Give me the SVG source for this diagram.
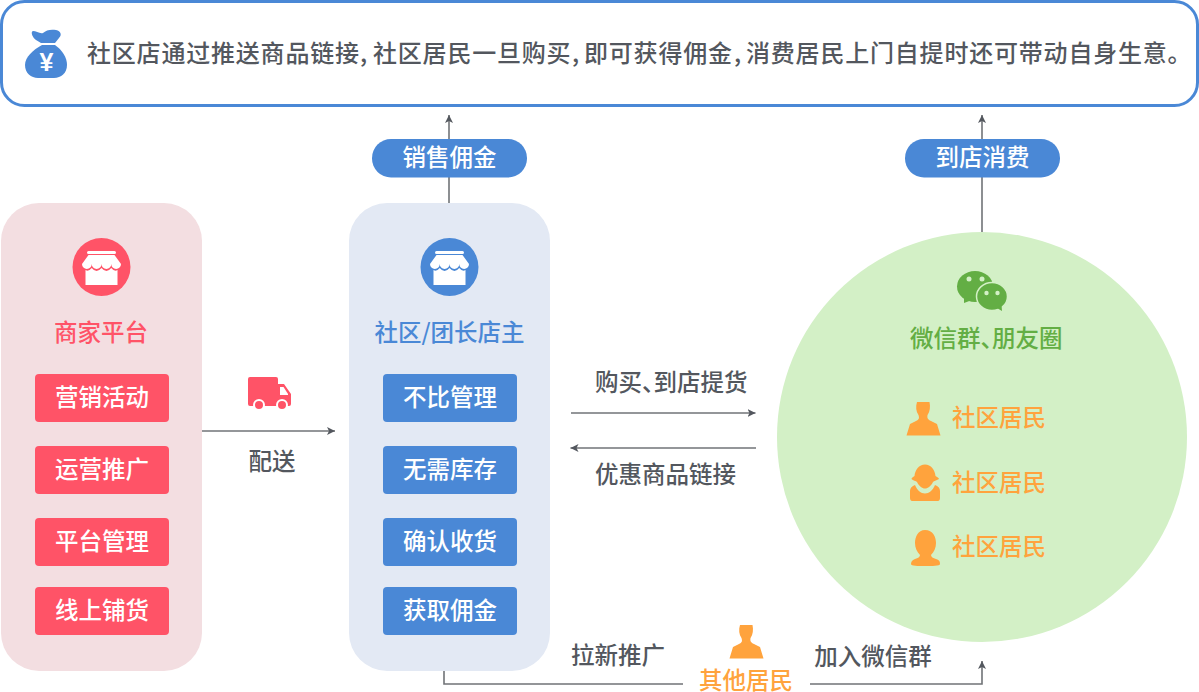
<svg xmlns="http://www.w3.org/2000/svg" width="1199" height="692" viewBox="0 0 1199 692">
<style>
text{font-family:"Noto Sans CJK SC","Liberation Sans",sans-serif;font-weight:500;font-size:23.500px}
.d{fill:#53575e}
.w{fill:#fff;text-anchor:middle}
.o{fill:#ffa33d}
.c{fill:none;stroke:#707377;stroke-width:1.600}
.n{letter-spacing:-12px}
.r{fill:#ff5367}.b{fill:#4a88d6}.or{fill:#ffa33d}
</style>
<defs>
<marker id="a" markerWidth="10" markerHeight="10" refX="8" refY="4.500" orient="auto" markerUnits="userSpaceOnUse"><path d="M0 .5L8 4.500L0 8.500L2 4.500Z" fill="#53575e"/></marker>
<g id="shop"><rect x="-14.500" y="-17" width="29" height="3" rx="1.500" fill="#fff"/><path d="M-13-13H13L19.500-4a4.875 5 0 0 1-9.750 0a4.875 5 0 0 1-9.750 0a4.875 5 0 0 1-9.750 0a4.875 5 0 0 1-9.750 0Z" fill="#fff"/><path d="M-16 2Q-13 4-9.750 0Q-5 6 0 0Q5 6 9.750 0Q13 4 16 2V17H-16Z" fill="#fff"/></g>
<path id="man" d="M-6-16.500H6.500C7.500-12 7-7 4.500-3.500C4 0 5 1 8 2.500L14 5.500L17.500 17H-16.500L-13 5.500L-7 2.500C-4 1-3.500 0-4.500-3.500C-7-7-7.500-12-6-16.500Z"/>
</defs>
<g id="banner"><rect x="1.500" y="1.500" width="1196" height="104" rx="23" fill="#fff" stroke="#4a88d6" stroke-width="3"/>
<path class="b" d="M33 31C36 31 40 34 43 33C46 30 51 29 56 30C61 31 62 35 59 38L55 43H41L36 40C33 38 30 32 33 31Z"/>
<path class="b" d="M42 45H55C62 50 67 57 67 65C67 73 61 78 54 78H38C31 78 25 73 25 65C25 57 33 50 42 45Z"/>
<text x="46.500" y="71" fill="#fff" style="font-family:'Liberation Sans',sans-serif;font-size:25px;font-weight:700" text-anchor="middle">¥</text>
<text class="d" y="62" style="font-size:24px;letter-spacing:.8px"><tspan x="87">社区店通过推送商品链接</tspan><tspan x="360">,</tspan><tspan x="373">社区居民一旦购买</tspan><tspan x="572">,</tspan><tspan x="584">即可获得佣金</tspan><tspan x="734">,</tspan><tspan x="746">消费居民上门自提时还可带动自身生意。</tspan></text></g>
<g id="connectors">
<path class="c" d="M449 139V115" marker-end="url(#a)"/><path class="c" d="M449 203V177"/>
<path class="c" d="M982 139V115" marker-end="url(#a)"/><path class="c" d="M982 233V177"/>
<path class="c" d="M202 431H335" marker-end="url(#a)"/>
<path class="c" d="M571 413H755.500" marker-end="url(#a)"/>
<path class="c" d="M756 448H570.500" marker-end="url(#a)"/>
<path class="c" d="M444 671V684H683"/>
<path class="c" d="M810 684H982V661" marker-end="url(#a)"/>
</g>
<g id="merchant"><rect x="1" y="203" width="201" height="468" rx="38" fill="#f3dee1"/>
<circle class="r" cx="101.500" cy="267" r="29"/><use href="#shop" x="101.500" y="268"/>
<text x="101" y="341" text-anchor="middle" fill="#ff5367">商家平台</text>
<rect class="r" x="35" y="374" width="134" height="48" rx="4"/><text class="w" x="102" y="406">营销活动</text>
<rect class="r" x="35" y="446" width="134" height="48" rx="4"/><text class="w" x="102" y="478">运营推广</text>
<rect class="r" x="35" y="518" width="134" height="48" rx="4"/><text class="w" x="102" y="550">平台管理</text>
<rect class="r" x="35" y="587" width="134" height="48" rx="4"/><text class="w" x="102" y="619">线上铺货</text></g>
<g id="delivery"><path class="r" d="M248 379a2 2 0 0 1 2-2H276a2 2 0 0 1 2 2V384H284L291 394V404a2 2 0 0 1-2 2H250a2 2 0 0 1-2-2Z"/>
<path d="M280 387H283.500L288 394V395H280Z" fill="#fff"/><circle class="r" cx="259" cy="405" r="5" stroke="#fff" stroke-width="2"/><circle class="r" cx="282" cy="405" r="5" stroke="#fff" stroke-width="2"/>
<text class="d" x="272" y="470" text-anchor="middle">配送</text></g>
<g id="owner"><rect x="349" y="203" width="201" height="468" rx="38" fill="#e3e9f4"/>
<circle class="b" cx="449.500" cy="267" r="29"/><use href="#shop" x="449.500" y="268"/>
<text x="449.500" y="341" text-anchor="middle" fill="#4a88d6">社区/团长店主</text>
<rect class="b" x="383" y="374" width="134" height="48" rx="4"/><text class="w" x="450" y="406">不比管理</text>
<rect class="b" x="383" y="446" width="134" height="48" rx="4"/><text class="w" x="450" y="478">无需库存</text>
<rect class="b" x="383" y="518" width="134" height="48" rx="4"/><text class="w" x="450" y="550">确认收货</text>
<rect class="b" x="383" y="587" width="134" height="48" rx="4"/><text class="w" x="450" y="619">获取佣金</text></g>
<g id="sales"><rect class="b" x="372" y="139" width="155" height="38.500" rx="19"/><text class="w" x="449.500" y="166">销售佣金</text></g>
<g id="visit"><rect class="b" x="905" y="139" width="155" height="38.500" rx="19"/><text class="w" x="982.500" y="166">到店消费</text></g>
<g id="labels"><text class="d" x="595" y="391">购买<tspan class="n">、</tspan>到店提货</text><text class="d" x="665.500" y="483" text-anchor="middle">优惠商品链接</text>
<text class="d" x="618" y="664" text-anchor="middle">拉新推广</text><text class="d" x="873" y="665" text-anchor="middle">加入微信群</text></g>
<g id="wechat"><circle cx="982" cy="437" r="205" fill="#d3f0c6"/>
<ellipse cx="975" cy="286.500" rx="18" ry="15.500" fill="#63ae44"/><path d="M964 297L964 303L972 300Z" fill="#63ae44"/>
<ellipse cx="992" cy="296.500" rx="15.500" ry="14" fill="#63ae44" stroke="#d3f0c6" stroke-width="1.500"/><path d="M997 308L1002 311L1001.500 305Z" fill="#63ae44"/>
<circle cx="969" cy="279" r="2.500" fill="#d3f0c6"/><circle cx="982" cy="279" r="2.500" fill="#d3f0c6"/><circle cx="986.500" cy="293" r="2.200" fill="#d3f0c6"/><circle cx="997.500" cy="293" r="2.200" fill="#d3f0c6"/>
<text x="910" y="347" fill="#63ae44">微信群<tspan class="n">、</tspan>朋友圈</text>
<g class="or"><use href="#man" x="923" y="418.500"/>
<path d="M925 464.500C931 464.500 935 470 935.500 476C937 477 939 478 939 479C936 480.500 934 481 933 482C931 486 928 488.500 925 488.500C922 488.500 919 486 917 482C916 481 913 480.500 911.500 479C911.500 478 913 477 914.500 476C915 470 919 464.500 925 464.500ZM915 485C917 490 921 493.500 925 493.500C929 493.500 933 490 935 485C938 486 940 488 940 491V498C940 500 939 501 938 501H912C911 501 910 500 910 498V491C910 488 912 486 915 485Z"/>
<path d="M925 530C933 530 936 537 936 543C936 548 934 552 931 555C931 557 933 558 936 559C939 560 940 561 940 564C940 566 932 566 925 566C918 566 911 566 911 564C911 561 913 560 915 559C918 558 920 557 920 555C917 552 915 548 915 543C915 537 918 530 925 530Z"/></g>
<text class="o" x="952" y="426">社区居民</text><text class="o" x="952" y="491">社区居民</text><text class="o" x="952" y="555">社区居民</text></g>
<g id="other"><use class="or" href="#man" x="746" y="641.500"/><text class="o" x="746" y="689" text-anchor="middle">其他居民</text></g>
</svg>
